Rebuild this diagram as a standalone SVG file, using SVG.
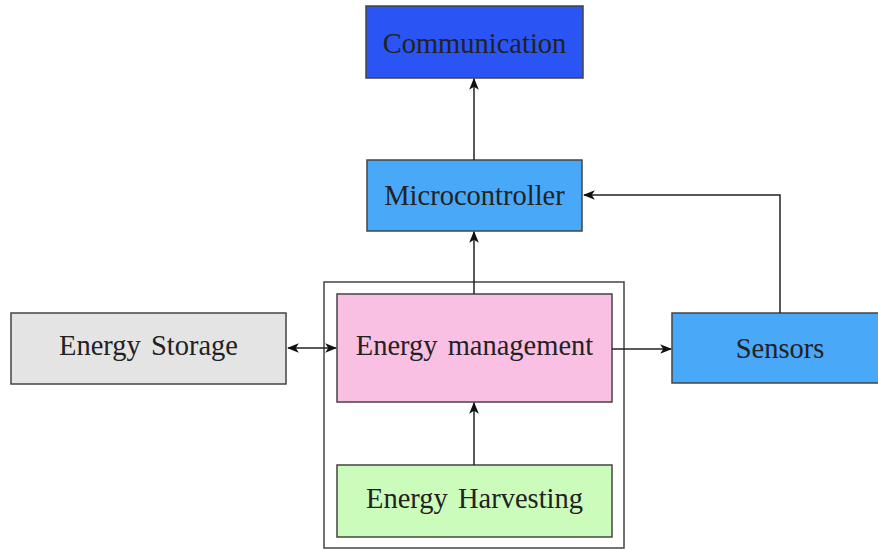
<svg xmlns="http://www.w3.org/2000/svg" width="878" height="550" viewBox="0 0 878 550">
<defs>
<style>
.box{stroke:#444;stroke-width:1.5}
.t{font-family:"Liberation Serif","Times New Roman",serif;font-size:28.5px;fill:#222;text-anchor:middle;word-spacing:3px}
.c{fill:none;stroke:#222;stroke-width:1.5}
</style>
<marker id="ah" viewBox="0 0 10 10" refX="9" refY="5" markerWidth="12" markerHeight="12" markerUnits="userSpaceOnUse" orient="auto-start-reverse">
<path d="M0,1 L10,5 L0,9 L2.5,5 Z" fill="#111"/>
</marker>
</defs>
<rect width="878" height="550" fill="#fff"/>
<g id="container"><rect x="324" y="282" width="300" height="266" fill="none" class="box"/></g>
<g id="communication"><rect x="366" y="6" width="217" height="72" fill="#2a55f4" class="box"/><text x="474.5" y="53" class="t">Communication</text></g>
<g id="microcontroller"><rect x="367" y="160" width="215" height="71" fill="#4aa8f8" class="box"/><text x="474.5" y="205" class="t">Microcontroller</text></g>
<g id="energy-management"><rect x="337" y="294" width="275" height="108" fill="#f9c0e4" class="box"/><text x="474.5" y="355" class="t">Energy management</text></g>
<g id="energy-storage"><rect x="11" y="313" width="275" height="71" fill="#e4e4e4" class="box"/><text x="148.5" y="355" class="t">Energy Storage</text></g>
<g id="sensors"><rect x="672" y="313" width="210" height="70" fill="#4aa8f8" class="box"/><text x="780" y="358" class="t">Sensors</text></g>
<g id="energy-harvesting"><rect x="337" y="465" width="275" height="72" fill="#ccfcbc" class="box"/><text x="474.5" y="508" class="t">Energy Harvesting</text></g>
<g id="connectors">
<line x1="474" y1="160" x2="474" y2="79" class="c" marker-end="url(#ah)"/>
<line x1="474" y1="294" x2="474" y2="232" class="c" marker-end="url(#ah)"/>
<line x1="474" y1="465" x2="474" y2="403" class="c" marker-end="url(#ah)"/>
<line x1="288" y1="348" x2="336" y2="348" class="c" marker-start="url(#ah)" marker-end="url(#ah)"/>
<line x1="612" y1="349" x2="671" y2="349" class="c" marker-end="url(#ah)"/>
<polyline points="780,313 780,195 584,195" class="c" marker-end="url(#ah)"/>
</g>
</svg>
